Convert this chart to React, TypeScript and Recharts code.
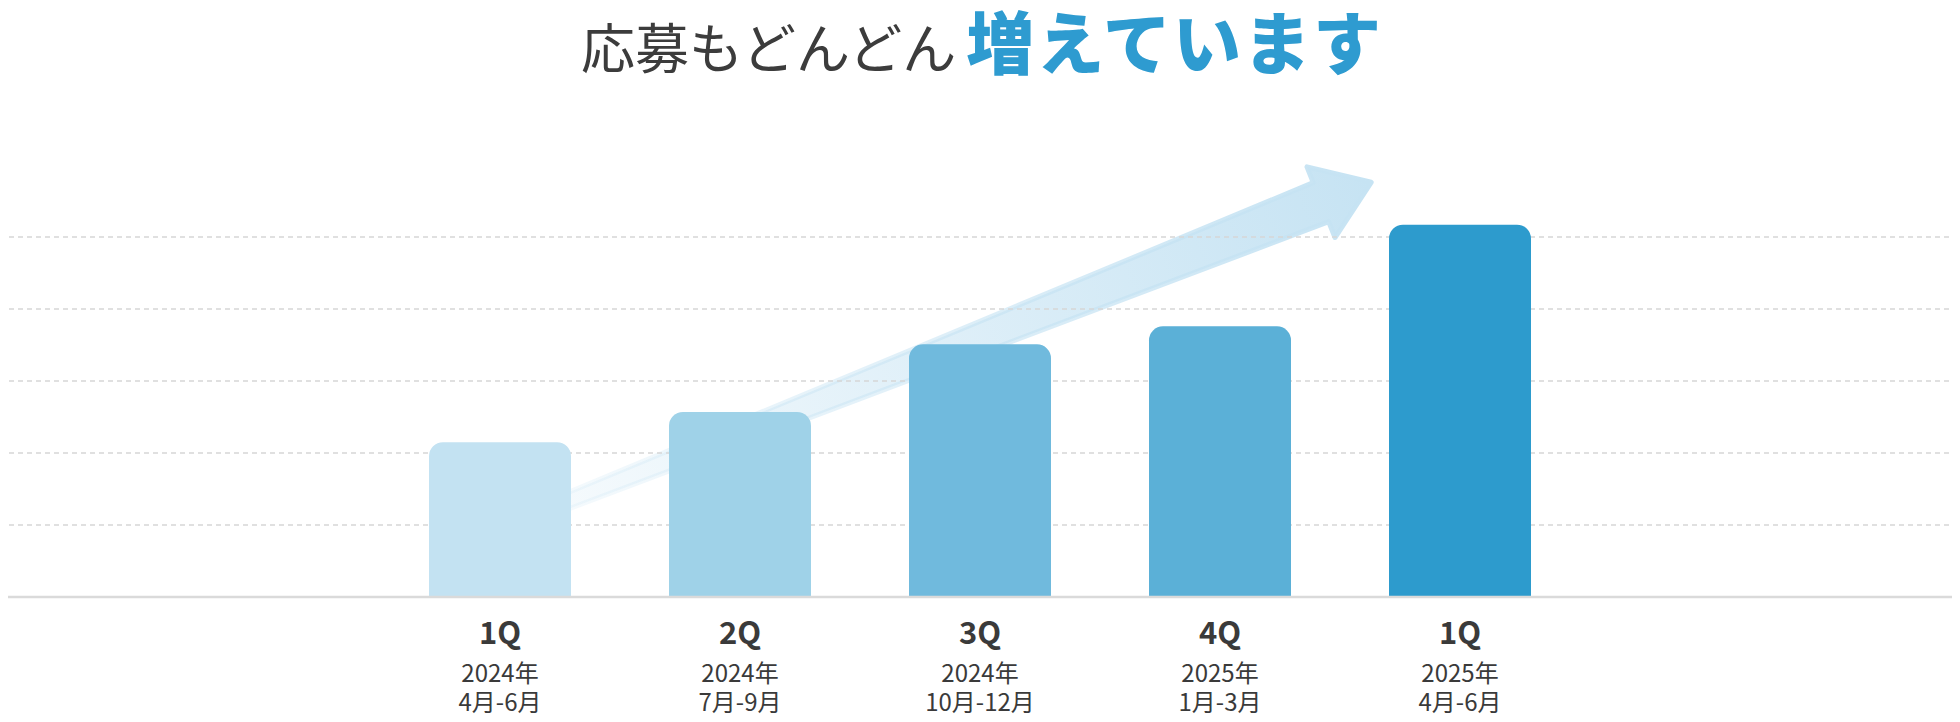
import React from 'react'
import { BarChart, Bar, XAxis, YAxis, CartesianGrid, ReferenceLine, Cell } from 'recharts'

const keys = ['2024-1Q', '2024-2Q', '2024-3Q', '2024-4Q', '2025-1Q']
const quarters = ['1Q', '2Q', '3Q', '4Q', '1Q']
const years = ['2024年', '2024年', '2024年', '2025年', '2025年']
const months = ['4月-6月', '7月-9月', '10月-12月', '1月-3月', '4月-6月']
const applications = [2.15, 2.57, 3.51, 3.76, 5.17]
const barColors = ['#c3e2f2', '#9fd2e8', '#70badd', '#5bb0d7', '#2d9bcd']
const yTicks = [0, 1, 2, 3, 4, 5]
// trend arrow: starts at the first bar's centre, its tip sits short of the last bar
const arrowStartY = 0.96
const arrowTipY = 5.76
const arrowReach = 0.9075

const data = keys.map((key, i) => ({ key, value: applications[i] }))

const FONT = '"Noto Sans CJK JP", "Noto Sans", sans-serif'

function QuarterTick({ x, y, index }: any) {
  return (
    <g transform={`translate(${x},${y})`} fontFamily={FONT} textAnchor="middle" fill="#3a3a3a">
      <text y={47} fontSize={31} fontWeight={700}>{quarters[index]}</text>
      <text y={85} fontSize={24}>{years[index]}</text>
      <text y={114} fontSize={24}>{months[index]}</text>
    </g>
  )
}

function TrendArrow({ x1, y1, x2: lastX, y2 }: any) {
  const x2 = x1 + (lastX - x1) * arrowReach
  const dx = x2 - x1
  const dy = y2 - y1
  const len = Math.hypot(dx, dy)
  const ux = dx / len
  const uy = dy / len
  const nx = -uy
  const ny = ux
  const w0 = 6.5
  const w1 = 21
  const hw = 38
  const head = 54
  const bx = x2 - ux * head
  const by = y2 - uy * head
  const pts = [
    [x1 + nx * w0, y1 + ny * w0],
    [bx + nx * w1, by + ny * w1],
    [bx + nx * hw, by + ny * hw],
    [x2, y2],
    [bx - nx * hw, by - ny * hw],
    [bx - nx * w1, by - ny * w1],
    [x1 - nx * w0, y1 - ny * w0],
  ]
  return (
    <g>
      <defs>
        <linearGradient id="trendFill" gradientUnits="userSpaceOnUse" x1={x1} y1={y1} x2={x2} y2={y2}>
          <stop offset="0%" stopColor="#c6e3f3" stopOpacity={0.12} />
          <stop offset="100%" stopColor="#c6e3f3" stopOpacity={1} />
        </linearGradient>
      </defs>
      <polygon
        points={pts.map((p) => p.join(',')).join(' ')}
        fill="url(#trendFill)"
        stroke="url(#trendFill)"
        strokeWidth={5}
        strokeLinejoin="round"
      />
    </g>
  )
}

export default function App() {
  return (
    <div style={{ position: 'relative', width: 1960, height: 722, margin: -8, background: '#fff' }}>
      <div
        style={{
          position: 'absolute',
          left: 581,
          top: 6,
          whiteSpace: 'nowrap',
          fontFamily: FONT,
          lineHeight: 1,
        }}
      >
        <span style={{ fontSize: 54, color: '#3c3c3c' }}>応募もどんどん</span>
        <span style={{ fontSize: 68, color: '#2e9bd0', fontWeight: 900, marginLeft: 10, letterSpacing: 2 }}>増えています</span>
      </div>
      <div style={{ position: 'absolute', left: 0, top: 0 }}>
        <BarChart width={1960} height={722} data={data} margin={{ top: 165, right: 0, left: 0, bottom: 0 }}>
          <ReferenceLine
            segment={[
              { x: keys[0], y: arrowStartY },
              { x: keys[keys.length - 1], y: arrowTipY },
            ]}
            ifOverflow="visible"
            zIndex={-150}
            shape={(p: any) => <TrendArrow {...p} />}
          />
          <CartesianGrid
            vertical={false}
            syncWithTicks
            horizontalValues={yTicks}
            stroke="#d6d6d6"
            strokeDasharray="5 4"
            strokeWidth={1.5}
          />
          <XAxis
            dataKey="key"
            padding={{ left: 380, right: 380 }}
            axisLine={{ stroke: '#dadada', strokeWidth: 2.5 }}
            tickLine={false}
            tickSize={0}
            tickMargin={0}
            interval={0}
            height={125}
            tick={<QuarterTick />}
          />
          <YAxis hide domain={[0, 6]} ticks={yTicks} allowDataOverflow />
          <Bar dataKey="value" barSize={142} radius={[14, 14, 0, 0]} isAnimationActive={false}>
            {data.map((d, i) => (
              <Cell key={d.key} fill={barColors[i]} />
            ))}
          </Bar>
        </BarChart>
      </div>
    </div>
  )
}
